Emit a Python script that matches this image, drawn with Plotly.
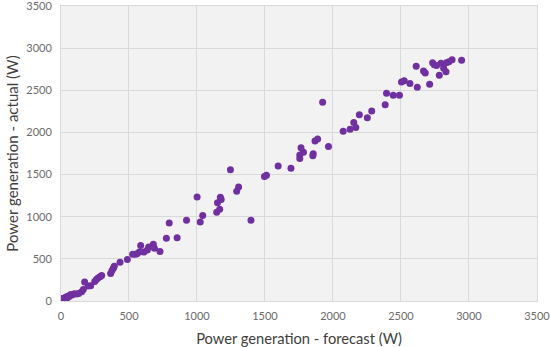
import plotly.graph_objects as go

forecast = [2946, 2876, 2853, 2834, 2831, 2814, 2794, 2782, 2762, 2745, 2733, 2711, 2679, 2666,
            2620, 2612, 2566, 2524, 2504, 2489, 2443, 2394, 2384, 2285, 2253, 2194, 2153, 2168,
            2126, 2075, 1924, 1967, 1887, 1868, 1855, 1852, 1783, 1765, 1756, 1756, 1691, 1597,
            1511, 1496, 1246, 1306, 1292, 1178, 1172, 1151, 1167, 1145, 1397, 1042, 1024, 1001,
            923, 854, 775, 796, 728, 679, 687, 645, 635, 610, 586, 576, 561, 546, 527, 488, 434,
            392, 385, 375, 365, 299, 287, 272, 260, 248, 218, 199, 174, 164, 152, 130, 115, 98,
            81, 71, 56, 42, 27, 17, 7, 22, 10, 5, 3, 12, 30, 35, 0, 15, 45, 60]
actual = [2856, 2863, 2838, 2828, 2720, 2762, 2822, 2678, 2795, 2802, 2826, 2572, 2704, 2728,
          2537, 2787, 2582, 2614, 2598, 2442, 2442, 2464, 2330, 2256, 2174, 2210, 2118, 2058,
          2038, 2014, 2358, 1832, 1921, 1899, 1748, 1725, 1764, 1818, 1731, 1690, 1574, 1602,
          1491, 1478, 1557, 1354, 1302, 1203, 1232, 1166, 1088, 1052, 958, 1015, 936, 1234,
          958, 752, 746, 926, 588, 674, 626, 642, 604, 580, 658, 582, 562, 554, 554, 492, 461,
          412, 390, 362, 326, 302, 288, 272, 256, 232, 180, 177, 226, 137, 110, 90, 82, 86,
          70, 78, 58, 49, 37, 25, 10, 4, 0, 18, 30, 12, 20, 45, 5, 8, 35, 52]

tick_vals = [0, 500, 1000, 1500, 2000, 2500, 3000, 3500]
tick_text = ["0", "500", "1000", "1500", "2000", "2500", "3000", "3500"]

fig = go.Figure()
fig.add_trace(go.Scatter(
    x=forecast, y=actual, mode="markers",
    marker=dict(color="#7030A0", size=7, line=dict(width=0)),
    showlegend=False, hoverinfo="x+y",
))

font_fam = "Lato, Open Sans, sans-serif"
axis_common = dict(
    range=[0, 3500.5], tickvals=tick_vals, ticktext=tick_text,
    showgrid=True, gridcolor="#D9D9D9", gridwidth=1,
    zeroline=False, showline=True, linecolor="#D9D9D9", linewidth=1, mirror=True,
    tickfont=dict(family=font_fam, size=11, color="#6b6b6b"),
    ticks="", fixedrange=True, automargin=False, ticklabeloverflow="allow",
)

fig.update_layout(
    width=550, height=347,
    margin=dict(l=61, r=13, t=6, b=46),
    paper_bgcolor="white", plot_bgcolor="#F2F2F2",
    xaxis=dict(**axis_common, ticklabelstandoff=5,
               title=dict(text="Power generation - forecast (W)", standoff=12,
                          font=dict(family=font_fam, size=14.7, color="#404040"))),
    yaxis=dict(**axis_common, ticklabelstandoff=6,
               title=dict(text="Power generation - actual (W)", standoff=4,
                          font=dict(family=font_fam, size=15, color="#404040"))),
)

fig.write_html("out.html", config={"displayModeBar": False},
               post_script="document.body.style.margin='0';document.body.style.overflow='hidden';")
